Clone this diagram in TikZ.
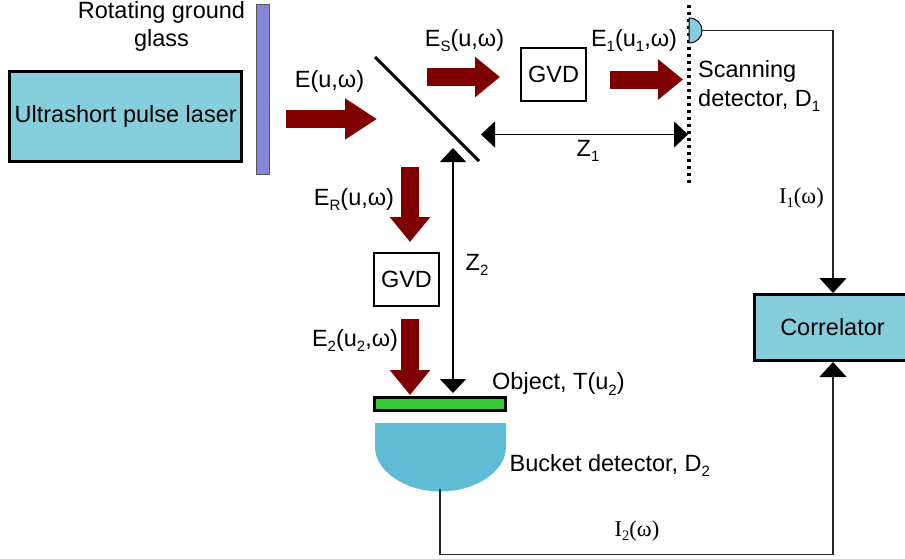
\documentclass[tikz,border=0pt]{standalone}
\usepackage{fontspec}
\setmainfont{Liberation Sans}
\newfontfamily\serifcap{Liberation Serif}
\usetikzlibrary{arrows.meta}
\definecolor{boxblue}{HTML}{87CEDD}
\definecolor{bucketblue}{HTML}{60BBD5}
\definecolor{glasspurple}{HTML}{8585DC}
\definecolor{objgreen}{HTML}{38C838}
\definecolor{beam}{HTML}{7F0000}
\newcommand{\sbs}[1]{\raisebox{-.22em}{\fontsize{15}{15}\selectfont #1}}
\newcommand{\sbr}[1]{\raisebox{-.18em}{\fontsize{14.5}{14.5}\selectfont #1}}
\tikzset{
  x=1pt,y=-1pt,
  lab/.style={inner sep=0pt,font=\fontsize{23.5}{29}\selectfont,align=center},
  serlab/.style={inner sep=0pt,font=\serifcap\fontsize{22.5}{25}\selectfont},
  fat/.style={draw=beam,line width=18pt,-{Triangle[length=32pt,width=39pt,fill=beam]}},
  fatshort/.style={draw=beam,line width=18pt,-{Triangle[length=25pt,width=39pt,fill=beam]}},
  blackbox/.style={draw=black,line width=3pt,inner sep=0pt},
  dim/.style={draw=black,line width=1.5pt,{Triangle[length=14pt,width=26pt]}-{Triangle[length=14pt,width=26pt]}},
  sig/.style={draw=black!85,line width=1.5pt,-{Triangle[length=15pt,width=27pt,fill=black,color=black]}},
}
\begin{document}
\begin{tikzpicture}
\useasboundingbox (0,0) rectangle (905,558);
\begin{scope}
\clip (0,0) rectangle (905,558);
% boxes
\node[blackbox,fill=boxblue,minimum width=232.5pt,minimum height=90pt,lab] (laser) at (125.7,116.5) {Ultrashort pulse laser};
\node[draw=black!65,line width=0.9pt,fill=glasspurple,minimum width=13pt,minimum height=170pt,inner sep=0pt] (glass) at (263,89.5) {};
\node[draw=black,line width=2pt,minimum width=65pt,minimum height=53pt,lab] (gvdA) at (553.5,74.5) {GVD};
\node[draw=black,line width=2pt,minimum width=65pt,minimum height=53pt,lab] (gvdB) at (406.5,279.5) {GVD};
\node[blackbox,fill=boxblue,minimum width=154pt,minimum height=66pt] (corrbox) at (831.5,327.5) {};
\node[lab] (correlator) at (832.5,327) {Correlator};
\node[blackbox,fill=objgreen,minimum width=131pt,minimum height=13pt] (object) at (440,404) {};
% beams
\coordinate (b1s) at (286,119); \coordinate (b1e) at (377,119);
\coordinate (b2s) at (427,77); \coordinate (b2e) at (500,77);
\coordinate (b3s) at (610,79.5); \coordinate (b3e) at (683,79.5);
\coordinate (b4s) at (410,167); \coordinate (b4e) at (410,242);
\coordinate (b5s) at (410,319); \coordinate (b5e) at (410,395);
\draw[fat] (b1s) -- (b1e);
\draw[fatshort] (b2s) -- (b2e);
\draw[fatshort] (b3s) -- (b3e);
\draw[fatshort] (b4s) -- (b4e);
\draw[fatshort] (b5s) -- (b5e);
% mirror
\coordinate (m1) at (375,57); \coordinate (m2) at (479,161);
\draw[line width=3pt,black] (m1) -- (m2);
% scanning plane
\coordinate (p1) at (689,5); \coordinate (p2) at (689,185);
\draw[line width=3.2pt,black,dash pattern=on 3.4pt off 3.6pt] (p1) -- (p2);
% distances
\coordinate (zl) at (481,134.5); \coordinate (zr) at (688,134.5);
\draw[dim] (zl) -- (zr);
\coordinate (zt) at (453,148); \coordinate (zb) at (453,393);
\draw[dim] (zt) -- (zb);
% detectors
\draw[black,line width=1pt,fill=boxblue] (689,18) .. controls (697,18) and (702,24) .. (702,30.5) .. controls (702,37) and (697,43) .. (689,43) -- cycle;
\fill[bucketblue] (375,423) -- (506,423) -- (506,447) .. controls (506,471) and (476,491.5) .. (440.5,491.5) .. controls (405,491.5) and (375,471) .. (375,447) -- cycle;
\coordinate (dA) at (702,30.5);
\coordinate (dB) at (440,489);
\coordinate (cA) at (833,30.5);
\coordinate (cB) at (440,554.5);
\coordinate (cC) at (833,554.5);
\draw[sig] (dA) -- (cA) -- (corrbox.north -| cA);
\draw[sig] (dB) -- (cB) -- (cC) -- (corrbox.south -| cC);
\end{scope}
% labels
\node[lab] (t1) at (161.5,26) {Rotating ground\\[-1pt]glass};
\node[lab] (t2) at (329.5,81) {E(u,ω)};
\node[lab] (t3) at (464.5,40.5) {E\sbs{S}(u,ω)};
\node[lab] (t4) at (634,40.5) {E\sbs{1}(u\sbs{1},ω)};
\node[lab,align=left,anchor=west] (t5) at (698,86) {Scanning\\detector, D\sbs{1}};
\node[lab] (t6) at (588,150.5) {Z\sbs{1}};
\node[serlab] (t7) at (801.5,198) {I\sbr{1}(ω)};
\node[lab] (t8) at (354,199.5) {E\sbs{R}(u,ω)};
\node[lab] (t9) at (477,264.5) {Z\sbs{2}};
\node[lab] (t10) at (355,340.5) {E\sbs{2}(u\sbs{2},ω)};
\node[lab,anchor=west] (t11) at (492,384) {Object, T(u\sbs{2})};
\node[lab,anchor=west] (t12) at (509.5,465.5) {Bucket detector, D\sbs{2}};
\node[serlab] (t13) at (637,531) {I\sbr{2}(ω)};
\end{tikzpicture}
\end{document}
